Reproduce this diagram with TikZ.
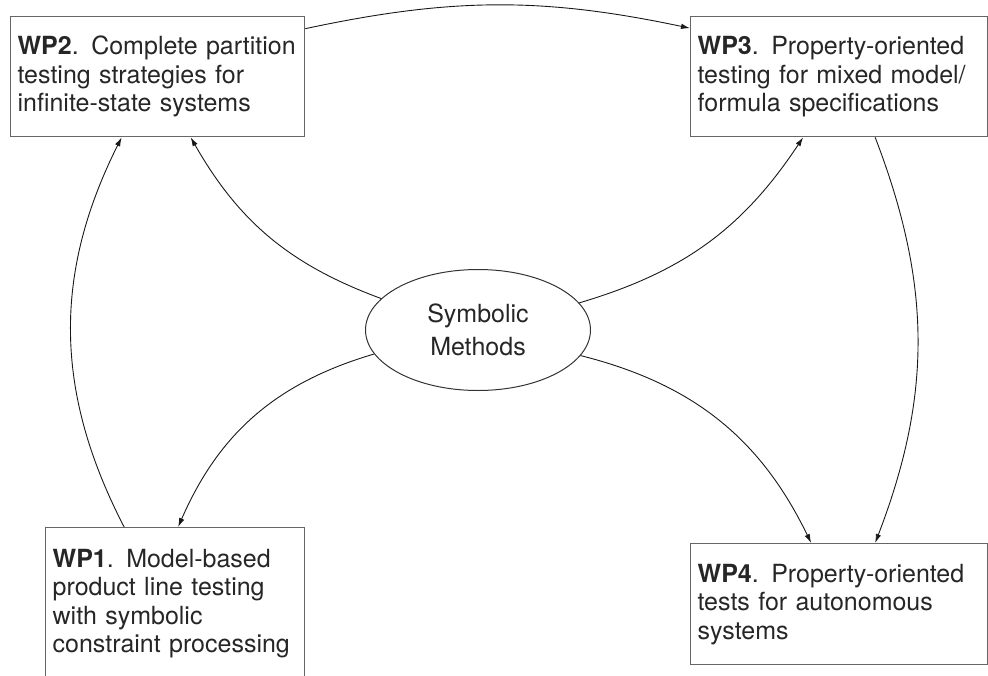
\documentclass[tikz,border=0pt]{standalone}
\usepackage{fontspec}
\setmainfont{TeX Gyre Heros}
\usetikzlibrary{arrows.meta}
\usetikzlibrary{calc}
\usetikzlibrary{shapes.geometric}

\begin{document}
\begin{tikzpicture}[x=1pt, y=-1pt,
        wpbox/.style={draw=black!60, line width=1.3pt, anchor=north west, align=left,
            inner xsep=7pt, inner ysep=0pt, minimum height=120pt,
            font=\fontsize{25}{28.5}\selectfont, text=black!85},
        link/.style={draw=black!90, line width=0.9pt, -{Latex[length=9pt,width=5.5pt]}}]
        \useasboundingbox (0,0) rectangle (988,675);
        \clip (0,0) rectangle (988,675);

        % Arbeitspakete
        \node[wpbox, text width=280pt] (wp2) at (10,16)
            {\textbf{WP2}. Complete partition\\testing strategies for\\infinite-state systems};
        \node[wpbox, text width=283pt] (wp3) at (690,16)
            {\textbf{WP3}. Property-oriented\\testing for mixed model/\\formula specifications};
        \node[wpbox, text width=245pt, minimum height=152pt] (wp1) at (45,527)
            {\textbf{WP1}. Model-based\\product line testing\\with symbolic\\constraint processing};
        \node[wpbox, text width=283pt, minimum height=121pt] (wp4) at (690,543)
            {\textbf{WP4}. Property-oriented\\tests for autonomous\\systems};

        % Mitte
        \node[draw=black!80, line width=1pt, ellipse, minimum width=225pt, minimum height=121pt,
            inner sep=0pt, align=center, font=\fontsize{25}{33}\selectfont, text=black!85]
            (sym) at (478,330) {Symbolic\\Methods};

        % Verbindungen
        \draw[link] (wp2.18) to[bend left=12] (wp3.162);
        \draw[link] (sym.162) to[bend left=20] ([xshift=33pt]wp2.south);
        \draw[link] (sym.15) to[bend right=20] ([xshift=-36pt]wp3.south);
        \draw[link] (sym.193) to[bend right=25] ([xshift=3pt]wp1.north);
        \draw[link] (sym.-14) to[bend left=25] ([xshift=-28pt]wp4.north);
        \draw[link] ([xshift=-51pt]wp1.north) to[bend left=27] ([xshift=-36pt]wp2.south);
        \draw[link] ([xshift=36pt]wp3.south) to[bend left=21] ([xshift=36pt]wp4.north);
\end{tikzpicture}
\end{document}
